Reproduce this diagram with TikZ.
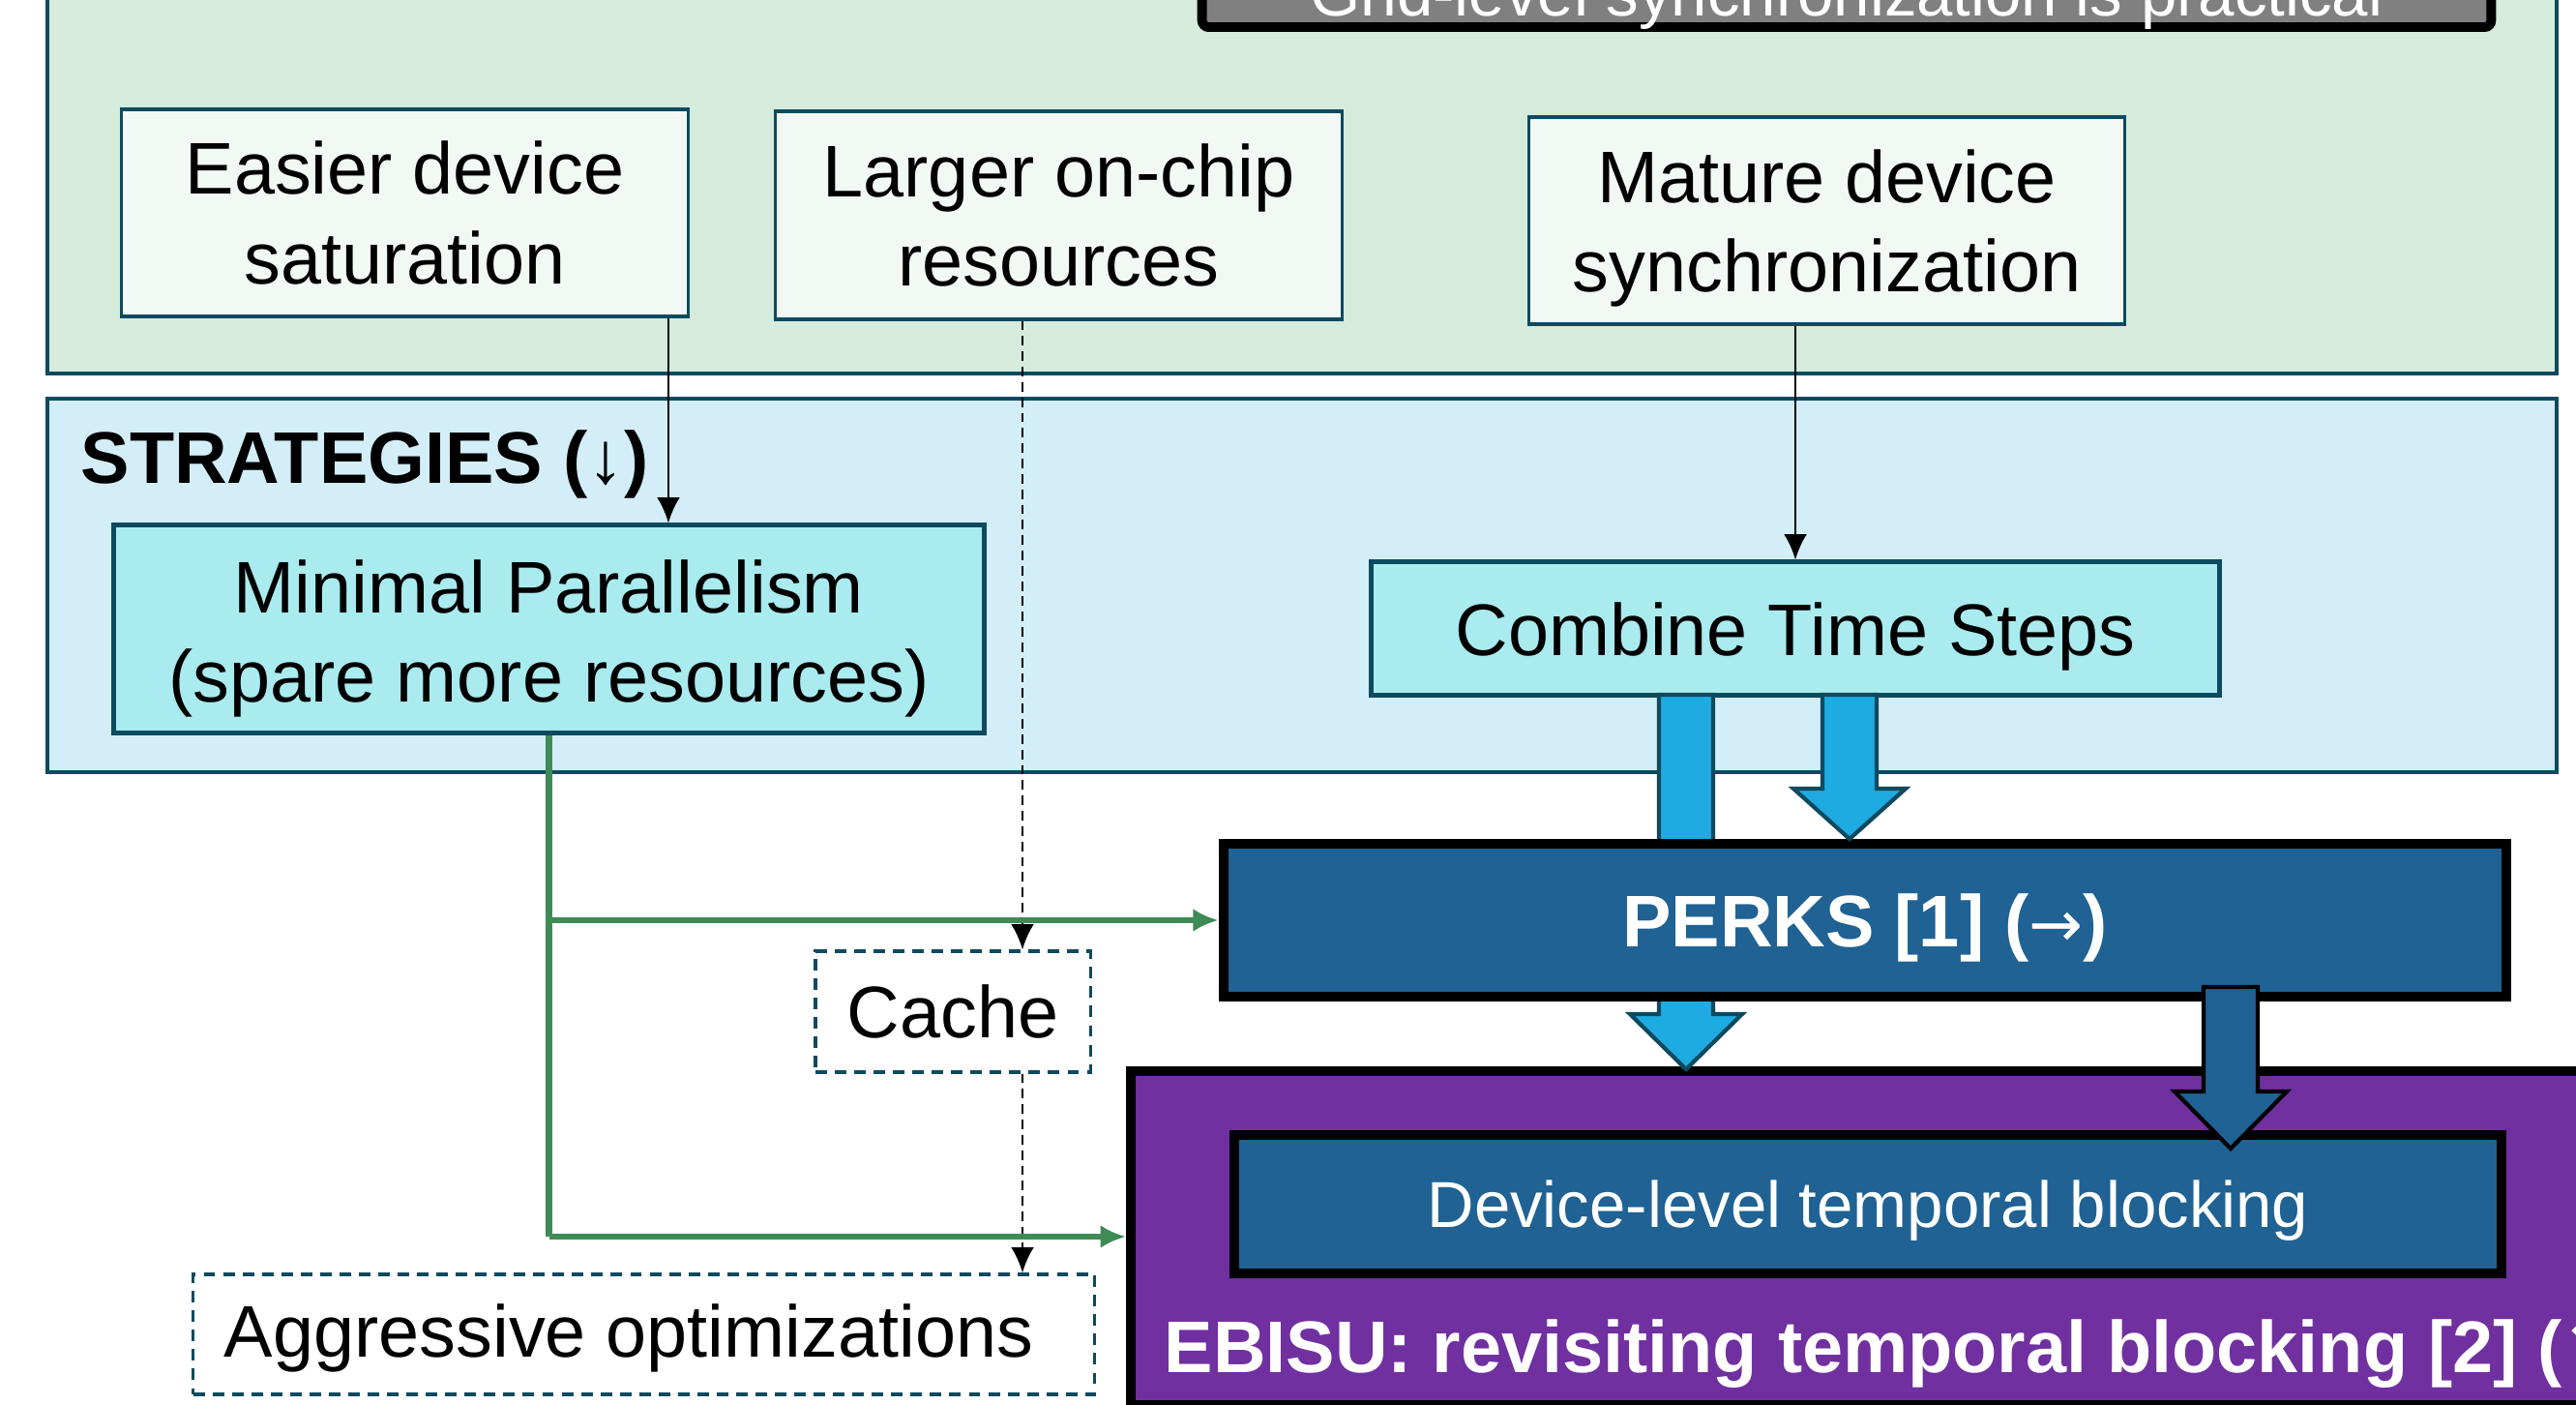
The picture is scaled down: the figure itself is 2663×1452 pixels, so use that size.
\documentclass[tikz,border=0pt]{standalone}
\usepackage{fontspec}
\setmainfont{Liberation Sans}
\newfontfamily\dejavu{DejaVu Sans}
\usetikzlibrary{arrows.meta}
\definecolor{cBorder}{RGB}{14,74,95}
\definecolor{cGreenBg}{RGB}{213,235,220}
\definecolor{cBlueBg}{RGB}{211,238,248}
\definecolor{cFact}{RGB}{242,248,244}
\definecolor{cStrat}{RGB}{169,235,239}
\definecolor{cArrow}{RGB}{30,171,226}
\definecolor{cDark}{RGB}{31,98,147}
\definecolor{cPurple}{RGB}{112,48,160}
\definecolor{cGray}{RGB}{128,128,128}
\definecolor{cGreen}{RGB}{63,139,85}
\newcommand\blkarr[6]{%
  \draw[line width=1.2pt,draw=#6,fill=#5,line join=miter]
    (#1-28,#2) -- (#1-28,#3) -- (#1-58,#3) -- (#1,#4) -- (#1+58,#3) -- (#1+28,#3) -- (#1+28,#2) -- cycle;}
\begin{document}
\begin{tikzpicture}[x=0.01cm,y=-0.01cm,
  big/.style={font=\fontsize{21.5}{26.3}\selectfont},
  bigb/.style={font=\fontsize{21.5}{26.3}\selectfont\bfseries},
  mid/.style={font=\fontsize{19.1}{23}\selectfont},
  txt/.style={align=center,inner sep=0pt},
  panelG/.style={draw=cBorder,line width=1.2pt,fill=cGreenBg},
  panelB/.style={draw=cBorder,line width=1.2pt,fill=cBlueBg},
  factbox/.style={draw=cBorder,line width=0.9pt,fill=cFact,inner sep=0pt},
  stratbox/.style={draw=cBorder,line width=1.4pt,fill=cStrat,inner sep=0pt},
  darkbox/.style={draw=black,line width=2.8pt,fill=cDark,inner sep=0pt},
  dashbox/.style={draw=cBorder,line width=0.9pt,dash pattern=on 3.4pt off 2.3pt,fill=white,inner sep=0pt},
  conn/.style={line width=0.8pt,-{Latex[length=7.5pt,width=6.8pt]}},
  dconn/.style={conn,dash pattern=on 2.8pt off 1.7pt},
  gconn/.style={draw=cGreen,line width=1.8pt},
  garrow/.style={gconn,-{Latex[length=7.5pt,width=6.8pt]}},
]
\useasboundingbox (0,0) rectangle (2663,1452);
\clip (0,0) rectangle (2663,1452);
\fill[white] (0,0) rectangle (2663,1452);

% panels
\draw[panelG] (49,-200) rectangle (2643,386);
\draw[panelB] (49,412) rectangle (2643,798);

% grid-level box (cut at top)
\node[draw=black,line width=2.8pt,fill=cGray,rounded corners=2pt,minimum width=13.32cm,minimum height=2.4cm,anchor=south,inner sep=0pt] (grid) at (1909,33) {};
\node[mid,text=white,anchor=base] (gridtxt) at (1909,17) {Grid-level synchronization is practical};

% fact boxes
\node[factbox,minimum width=5.85cm,minimum height=2.14cm] (easier) at (418.5,220) {};
\node[txt,big] (easiert) at (easier.center) {Easier device\\saturation};
\node[factbox,minimum width=5.85cm,minimum height=2.15cm] (larger) at (1094.5,222.5) {};
\node[txt,big] (largert) at (larger.center) {Larger on-chip\\resources};
\node[factbox,minimum width=6.15cm,minimum height=2.14cm] (mature) at (1888.5,228) {};
\node[txt,big,yshift=-2.2pt] (maturet) at (mature.center) {Mature device\\synchronization};

% strategies
\node[bigb,anchor=base west,inner sep=0pt] (strat) at (83,500) {STRATEGIES (↓)};
\node[stratbox,minimum width=8.99cm,minimum height=2.14cm] (minimal) at (567.5,650) {};
\node[txt,big,yshift=-2.9pt] (minimalt) at (minimal.center) {Minimal Parallelism\\(spare more resources)};
\node[stratbox,minimum width=8.76cm,minimum height=1.37cm] (combine) at (1856,649.5) {};
\node[txt,big,yshift=-2.4pt] (combinet) at (combine.center) {Combine Time Steps};

% EBISU and device-level
\node[draw=black,line width=2.8pt,fill=cPurple,minimum width=17cm,minimum height=3.45cm,anchor=north west,inner sep=0pt] (ebisu) at (1164,1102) {};
\node[bigb,text=white,anchor=base west,inner sep=0pt] (ebisutxt) at (1203,1418) {EBISU: revisiting temporal blocking [2] ({\dejavu\bfseries ↘})};
\node[darkbox,minimum width=13.1cm,minimum height=1.43cm] (device) at (1931,1244.5) {};
\node[txt,mid,text=white,yshift=-2pt] (devicet) at (device.center) {Device-level temporal blocking};

% block arrows
\blkarr{1743}{718}{1048}{1105}{cArrow}{cBorder}
\node[darkbox,minimum width=13.26cm,minimum height=1.58cm] (perks) at (1928,951) {};
\node[txt,bigb,text=white,yshift=-2.4pt] (perkst) at (perks.center) {PERKS [1] ({\dejavu\mdseries\fontsize{19}{23}\selectfont →})};
\blkarr{1912}{718}{815}{867}{cArrow}{cBorder}
\blkarr{2306}{1020}{1128}{1187}{cDark}{black}

% dashed boxes
\node[dashbox,minimum width=2.84cm,minimum height=1.25cm] (cache) at (985,1045.5) {};
\node[txt,big] (cachet) at (cache.center) {Cache};
\node[dashbox,minimum width=9.31cm,minimum height=1.24cm] (aggr) at (665.5,1379) {};
\node[txt,big,yshift=-1pt,xshift=-4.4pt] (aggrt) at (aggr.center) {Aggressive optimizations};

% connectors
\coordinate (lx) at (1057,0);
\coordinate (ex) at (691,0);
\draw[conn] (easier.south -| ex) -- (minimal.north -| ex);
\draw[conn] (mature.south -| combine.north) -- (combine.north);
\draw[dconn] (larger.south -| lx) -- (cache.north -| lx);
\draw[dconn] (cache.south -| lx) -- (aggr.north -| lx);

\coordinate (gy) at (0,1278);
\draw[gconn] (minimal.south) -- (minimal.south |- gy);
\draw[garrow] (minimal.south |- perks.west) -- (perks.west);
\draw[garrow] (minimal.south |- gy) -- (ebisu.west |- gy);
\end{tikzpicture}
\end{document}
